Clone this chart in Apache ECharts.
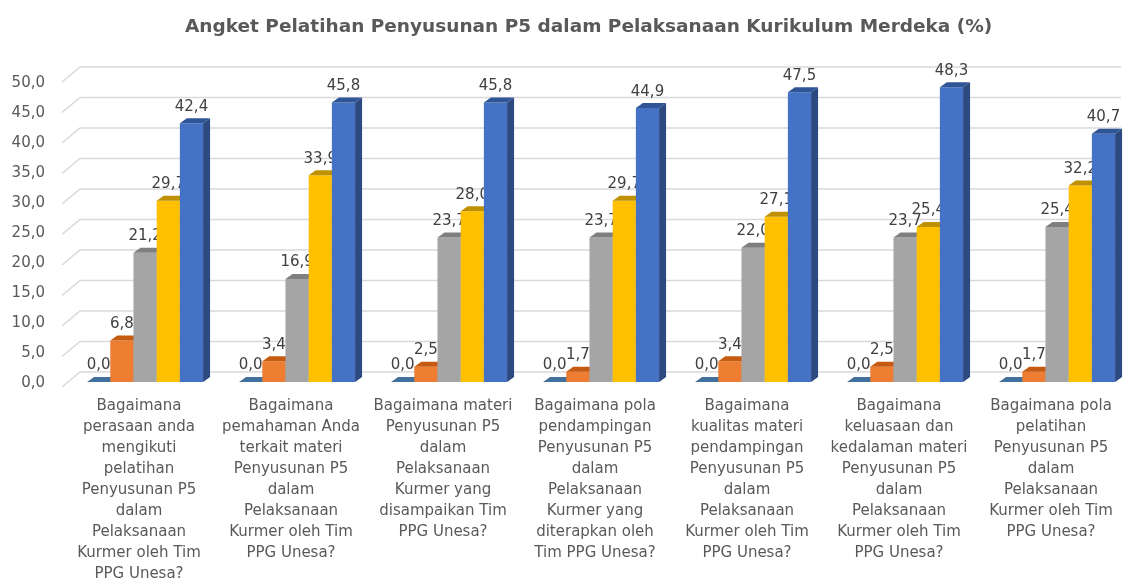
<!DOCTYPE html>
<html>
<head>
<meta charset="utf-8">
<script src="https://cdn.jsdelivr.net/npm/echarts@6/dist/echarts.min.js"></script>
<style>
html,body{margin:0;padding:0;background:#fff;}
#chart{width:1137px;height:579px;}
</style>
</head>
<body>
<div id="chart"></div>
<script>
var categories = [
  "Bagaimana\nperasaan anda\nmengikuti\npelatihan\nPenyusunan P5\ndalam\nPelaksanaan\nKurmer oleh Tim\nPPG Unesa?",
  "Bagaimana\npemahaman Anda\nterkait materi\nPenyusunan P5\ndalam\nPelaksanaan\nKurmer oleh Tim\nPPG Unesa?",
  "Bagaimana materi\nPenyusunan P5\ndalam\nPelaksanaan\nKurmer yang\ndisampaikan Tim\nPPG Unesa?",
  "Bagaimana pola\npendampingan\nPenyusunan P5\ndalam\nPelaksanaan\nKurmer yang\nditerapkan oleh\nTim PPG Unesa?",
  "Bagaimana\nkualitas materi\npendampingan\nPenyusunan P5\ndalam\nPelaksanaan\nKurmer oleh Tim\nPPG Unesa?",
  "Bagaimana\nkeluasaan dan\nkedalaman materi\nPenyusunan P5\ndalam\nPelaksanaan\nKurmer oleh Tim\nPPG Unesa?",
  "Bagaimana pola\npelatihan\nPenyusunan P5\ndalam\nPelaksanaan\nKurmer oleh Tim\nPPG Unesa?"
];
var series1 = [0.0, 0.0, 0.0, 0.0, 0.0, 0.0, 0.0];
var series2 = [6.8, 3.4, 2.5, 1.7, 3.4, 2.5, 1.7];
var series3 = [21.2, 16.9, 23.7, 23.7, 22.0, 23.7, 25.4];
var series4 = [29.7, 33.9, 28.0, 29.7, 27.1, 25.4, 32.2];
var series5 = [42.4, 45.8, 45.8, 44.9, 47.5, 48.3, 40.7];
var yTicks = [0, 5, 10, 15, 20, 25, 30, 35, 40, 45, 50];
var titleText = "Angket Pelatihan Penyusunan P5 dalam Pelaksanaan Kurikulum Merdeka (%)";

var allSeries = [series1, series2, series3, series4, series5];
var faceColors = [
  {front:'#5B9BD5', top:'#41719C', side:'#3E6C96'},
  {front:'#ED7D31', top:'#C55A11', side:'#B65A20'},
  {front:'#A5A5A5', top:'#7F7F7F', side:'#7A7A7A'},
  {front:'#FFC000', top:'#BF9000', side:'#BF9000'},
  {front:'#4472C4', top:'#2F5597', side:'#2C4A80'}
];
var FONT = 'DejaVu Sans';
var DX = 7, DY = -5;

function fmt(v){ return v.toFixed(1).replace('.', ','); }

function barRenderer(si){
  return function(params, api){
    var cat = api.value(0), v = api.value(1);
    var pt = api.coord([cat, v]);
    var base = api.coord([cat, 0]);
    var catW = api.size([1, 0])[0];
    var w = catW * 0.1526;
    var cc = pt[0] + catW * 0.04;
    var x0 = cc + (si - 2.5) * w;
    var x1 = x0 + w;
    var yt = pt[1], yb = base[1];
    var c = faceColors[si];
    var children = [];
    if (yb - yt > 0.01) {
      children.push({type:'rect', shape:{x:x0, y:yt, width:w, height:yb-yt}, style:{fill:c.front}});
      children.push({type:'polygon', shape:{points:[[x1,yt],[x1+DX,yt+DY],[x1+DX,yb+DY],[x1,yb]]}, style:{fill:c.side}});
    }
    children.push({type:'polygon', shape:{points:[[x0,yt],[x1,yt],[x1+DX,yt+DY],[x0+DX,yt+DY]]}, style:{fill:c.top}});
    children.push({type:'text', style:{text:fmt(v), x:(x0+x1)/2, y:yt+DY-4, textAlign:'center', textVerticalAlign:'bottom', fill:'#404040', font:'15px "' + FONT + '"'}});
    return {type:'group', children:children};
  };
}

function gridRenderer(params, api){
  var v = api.value(1);
  var p = api.coord([0, v]);
  var cs = params.coordSys;
  var y = p[1];
  var fx = cs.x - 1, fy = y + 5;
  var bx = cs.x + 17, by = y - 10;
  var ex = cs.x + cs.width - 6;
  return {type:'polyline', shape:{points:[[fx,fy],[bx,by],[ex,by]]}, style:{stroke:'#D9D9D9', lineWidth:1.5, fill:null}};
}

var series = [{
  type:'custom', xAxisIndex:0, yAxisIndex:0, z:1, silent:true,
  data: yTicks.map(function(t){ return [0, t]; }),
  renderItem: gridRenderer
}];
allSeries.forEach(function(arr, si){
  series.push({
    type:'custom', xAxisIndex:0, yAxisIndex:0, z:2 + si, silent:true,
    data: arr.map(function(v, i){ return [i, v]; }),
    encode:{x:0, y:1},
    renderItem: barRenderer(si)
  });
});

var chart = echarts.init(document.getElementById('chart'));
chart.setOption({
  animation:false,
  backgroundColor:'#fff',
  title:{text:titleText, left:180, top:13, textStyle:{fontFamily:FONT, fontSize:18.5, fontWeight:'bold', color:'#595959'}},
  grid:[
    {left:63, right:10, top:77, bottom:197, containLabel:false, outerBoundsMode:'none'},
    {left:53, right:10, top:83, bottom:196, containLabel:false, outerBoundsMode:'none'}
  ],
  xAxis:[
    {type:'category', gridIndex:0, data:categories, axisLine:{show:false}, axisTick:{show:false},
     axisLabel:{interval:0, margin:14, fontFamily:FONT, fontSize:15, lineHeight:21, color:'#595959'}},
    {type:'value', gridIndex:1, show:false}
  ],
  yAxis:[
    {type:'value', gridIndex:0, min:0, max:50, interval:5, axisLabel:{show:false}, splitLine:{show:false}, axisLine:{show:false}, axisTick:{show:false}},
    {type:'value', gridIndex:1, min:0, max:50, interval:5, splitLine:{show:false}, axisLine:{show:false}, axisTick:{show:false},
     axisLabel:{margin:8, fontFamily:FONT, fontSize:15, color:'#595959', formatter:function(v){ return fmt(v); }}}
  ],
  series:series
});
</script>
</body>
</html>
